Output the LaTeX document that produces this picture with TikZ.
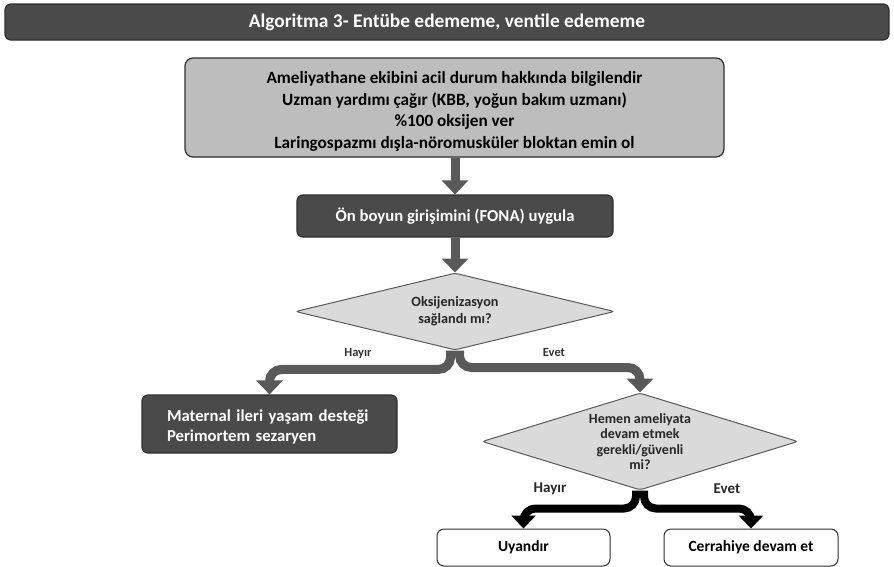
\documentclass[tikz,border=0pt]{standalone}
\usepackage{fontspec}
\setmainfont{Carlito}
\usetikzlibrary{arrows.meta,shapes.geometric}
\definecolor{bardark}{HTML}{4A4A4A}
\definecolor{edgedark}{HTML}{2E2E2E}
\definecolor{boxlight}{HTML}{BDBDBD}
\definecolor{dialight}{HTML}{DADADA}
\definecolor{arrowgray}{HTML}{595959}
\tikzset{
  x=1pt, y=-1pt,
  darkbox/.style={draw=edgedark, line width=1.2pt, fill=bardark, rounded corners=6pt, inner sep=0pt},
  darktext/.style={text=white, font=\fontsize{16.7}{20.5}\selectfont\bfseries},
  lightbox/.style={draw=edgedark, line width=1.2pt, fill=boxlight, rounded corners=8pt, inner sep=0pt},
  whitebox/.style={draw=edgedark, line width=1pt, fill=white, rounded corners=7pt, font=\fontsize{15.5}{18}\selectfont\bfseries, align=center, inner sep=0pt},
  decision/.style={diamond, draw=arrowgray, line width=1pt, fill=dialight, inner sep=0pt, rounded corners=3pt},
  dtext/.style={font=\fontsize{14.2}{17}\selectfont\bfseries, align=center, text=black!85},
  garrow/.style={draw=arrowgray, line width=9pt, -{Triangle[width=26pt,length=14pt]}, rounded corners=12pt},
  barrow/.style={draw=black, line width=8pt, -{Triangle[width=24pt,length=13pt]}, rounded corners=12pt},
  lbl/.style={font=\fontsize{12.5}{14}\selectfont\bfseries, text=black!80},
  lblb/.style={font=\fontsize{15}{16}\selectfont\bfseries, text=black!85},
}
\begin{document}
\begin{tikzpicture}
\useasboundingbox (0,0) rectangle (894,566);
% title bar
\node[draw=edgedark, line width=1.2pt, fill=bardark, rounded corners=6pt, minimum width=884pt, minimum height=36pt, inner sep=0pt, text=white, font=\fontsize{19.4}{21}\selectfont\bfseries] (title) at (447,22) {Algoritma 3- Entübe edememe, ventile edememe};
% top box
\node[lightbox, minimum width=539pt, minimum height=99pt, label={[yshift=-4pt, align=center, font=\fontsize{17.2}{21.7}\selectfont\bfseries]center:Ameliyathane ekibini acil durum hakkında bilgilendir\\Uzman yardımı çağır (KBB, yoğun bakım uzmanı)\\\%100 oksijen ver\\Laringospazmı dışla-nöromusküler bloktan emin ol}] (top) at (454.5,107.5) {};
% FONA
\node[darkbox, darktext, minimum width=316pt, minimum height=42pt, align=center] (fona) at (455,216) {Ön boyun girişimini (FONA) uygula};
% diamond 1
\node[decision, minimum width=319pt, minimum height=77pt, label={[dtext]center:Oksijenizasyon\\sağlandı mı?}] (d1) at (455,311.5) {};
% maternal
\node[darkbox, minimum width=255pt, minimum height=58pt, label={[darktext, yshift=-3pt, text width=205pt, align=left]center:Maternal ileri yaşam desteği\\Perimortem sezaryen}] (mat) at (269.5,424) {};
% diamond 2
\node[decision, minimum width=316pt, minimum height=97pt, label={[dtext, font=\fontsize{14}{15.5}\selectfont\bfseries]center:Hemen ameliyata\\devam etmek\\gerekli/güvenli\\mi?}] (d2) at (640,441.5) {};
% bottom boxes
\node[whitebox, minimum width=173pt, minimum height=37pt] (uy) at (523.5,547.5) {Uyandır};
\node[whitebox, minimum width=174pt, minimum height=37pt] (cer) at (751,547.5) {Cerrahiye devam et};
% arrows
\draw[garrow] (top.south -| fona.north) -- (fona.north);
\draw[garrow] (fona.south) -- (d1.north);
\coordinate (d1l) at ([xshift=-4.5pt]d1.south);
\coordinate (d1r) at ([xshift=4.5pt]d1.south);
\draw[garrow] (d1l) |- ([yshift=25pt]mat.north) -- (mat.north);
\draw[garrow] (d1r) |- ([yshift=25pt]d2.north) -- (d2.north);
\coordinate (d2l) at ([xshift=-4pt]d2.south);
\coordinate (d2r) at ([xshift=4pt]d2.south);
\draw[barrow] (d2l) |- ([yshift=20pt]uy.north) -- (uy.north);
\draw[barrow] (d2r) |- ([yshift=20pt]cer.north) -- (cer.north);
% labels
\node[lbl] (h1) at (358,353) {Hayır};
\node[lbl] (e1) at (554,352) {Evet};
\node[lblb] (h2) at (550,489) {Hayır};
\node[lblb] (e2) at (727,489) {Evet};
\end{tikzpicture}
\end{document}
